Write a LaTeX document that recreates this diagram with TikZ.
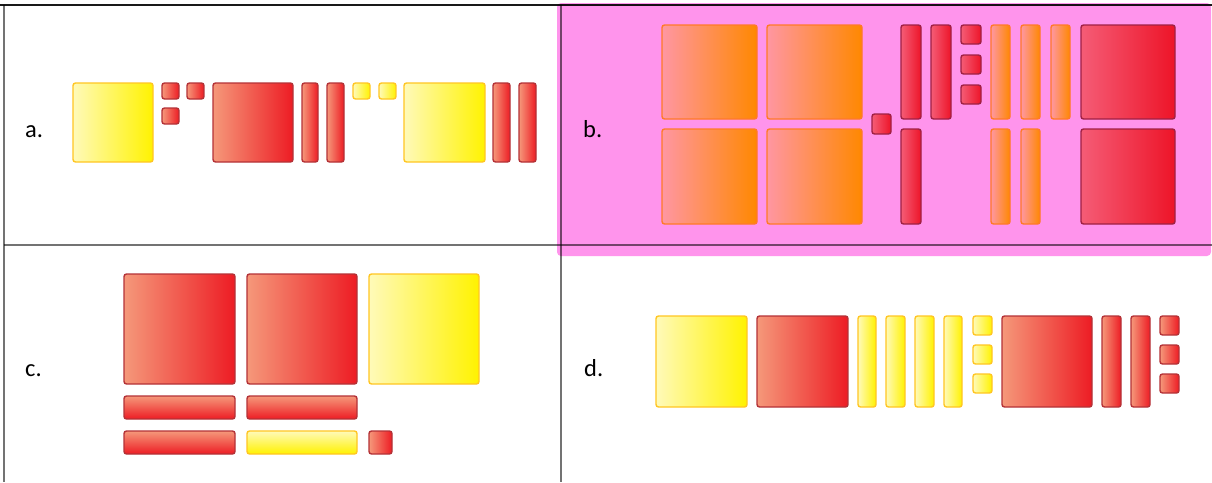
\documentclass[tikz,border=0pt]{standalone}
\usepackage{fontspec}
\setmainfont{Carlito}
\definecolor{redL}{RGB}{245,152,122}
\definecolor{redR}{RGB}{237,28,36}
\definecolor{redB}{RGB}{180,50,55}
\definecolor{yelL}{RGB}{255,250,185}
\definecolor{yelR}{RGB}{255,242,0}
\definecolor{yelB}{RGB}{255,198,35}
\definecolor{orgL}{RGB}{255,150,162}
\definecolor{orgR}{RGB}{255,136,0}
\definecolor{orgB}{RGB}{255,122,40}
\definecolor{crmL}{RGB}{245,92,118}
\definecolor{crmR}{RGB}{237,20,40}
\definecolor{crmB}{RGB}{160,32,68}
\definecolor{pinkbg}{RGB}{255,148,236}
\tikzset{
  blkbase/.style={line width=1.4pt, rounded corners=2.5pt},
  redV/.style={blkbase, left color=redL, right color=redR, draw=redB},
  yelV/.style={blkbase, left color=yelL, right color=yelR, draw=yelB},
  orgV/.style={blkbase, left color=orgL, right color=orgR, draw=orgB},
  crmV/.style={blkbase, left color=crmL, right color=crmR, draw=crmB},
  redH/.style={blkbase, top color=redL, bottom color=redR, draw=redB},
  yelH/.style={blkbase, top color=yelL, bottom color=yelR, draw=yelB},
  gridline/.style={line width=2pt, draw=black, draw opacity=0.55},
  topline/.style={line width=2pt, draw=black, draw opacity=0.9},
  lbl/.style={anchor=base west, inner sep=0pt, font=\fontsize{24.5}{28}\selectfont}
}
\newcommand\myblk[5]{\shadedraw[#1] (#2,#3) rectangle (#4,#5);}
\begin{document}
\begin{tikzpicture}[x=1pt,y=-1pt]
\useasboundingbox (0,0) rectangle (1212,482);
\fill[white] (0,0) rectangle (1212,482);
% highlighted cell
\fill[pinkbg, rounded corners=4pt] (557,3) rectangle (1211,256);
% table rules
\draw[gridline] (3.5,4.5) -- (3.5,482);
\draw[gridline] (560.5,4.5) -- (560.5,482);
\draw[gridline] (3.5,244.5) -- (1212,244.5);
\draw[topline] (0,4.5) -- (1212,4.5);
% labels
\node[lbl] (la) at (25,137) {a.};
\node[lbl] (lb) at (583,137) {b.};
\node[lbl] (lc) at (25,376) {c.};
\node[lbl] (ld) at (584,376) {d.};
% panel a
\myblk{yelV}{73}{83}{153}{162}
\myblk{redV}{162}{83}{179}{99}
\myblk{redV}{187}{83}{204}{99}
\myblk{redV}{162}{108}{179}{124}
\myblk{redV}{213}{83}{293}{162}
\myblk{redV}{302}{83}{318}{162}
\myblk{redV}{327}{83}{344}{162}
\myblk{yelV}{353}{83}{370}{99}
\myblk{yelV}{379}{83}{396}{99}
\myblk{yelV}{404}{83}{485}{162}
\myblk{redV}{493}{83}{510}{162}
\myblk{redV}{519}{83}{536}{162}
% panel b
\myblk{orgV}{662}{25}{757}{119}
\myblk{orgV}{767}{25}{862}{119}
\myblk{orgV}{662}{129}{757}{224}
\myblk{orgV}{767}{129}{862}{224}
\myblk{crmV}{872}{114}{891}{134}
\myblk{crmV}{901}{25}{921}{119}
\myblk{crmV}{931}{25}{951}{119}
\myblk{crmV}{901}{129}{921}{224}
\myblk{crmV}{961}{25}{981}{44}
\myblk{crmV}{961}{55}{981}{74}
\myblk{crmV}{961}{85}{981}{104}
\myblk{orgV}{991}{25}{1010}{119}
\myblk{orgV}{1021}{25}{1040}{119}
\myblk{orgV}{1051}{25}{1070}{119}
\myblk{orgV}{991}{129}{1010}{224}
\myblk{orgV}{1021}{129}{1040}{224}
\myblk{crmV}{1081}{25}{1175}{119}
\myblk{crmV}{1081}{129}{1175}{224}
% panel c
\myblk{redV}{124}{274}{235}{384}
\myblk{redV}{247}{274}{357}{384}
\myblk{yelV}{369}{274}{479}{384}
\myblk{redH}{124}{396}{235}{419}
\myblk{redH}{247}{396}{357}{419}
\myblk{redH}{124}{431}{235}{454}
\myblk{yelH}{247}{431}{357}{454}
\myblk{redV}{369}{431}{392}{454}
% panel d
\myblk{yelV}{656}{316}{747}{407}
\myblk{redV}{757}{316}{848}{407}
\myblk{yelV}{858}{316}{876}{407}
\myblk{yelV}{886}{316}{905}{407}
\myblk{yelV}{915}{316}{934}{407}
\myblk{yelV}{944}{316}{962}{407}
\myblk{yelV}{973}{316}{992}{335}
\myblk{yelV}{973}{345}{992}{364}
\myblk{yelV}{973}{374}{992}{393}
\myblk{redV}{1002}{316}{1092}{407}
\myblk{redV}{1102}{316}{1121}{407}
\myblk{redV}{1131}{316}{1150}{407}
\myblk{redV}{1160}{316}{1179}{335}
\myblk{redV}{1160}{345}{1179}{364}
\myblk{redV}{1160}{374}{1179}{393}
\end{tikzpicture}
\end{document}
